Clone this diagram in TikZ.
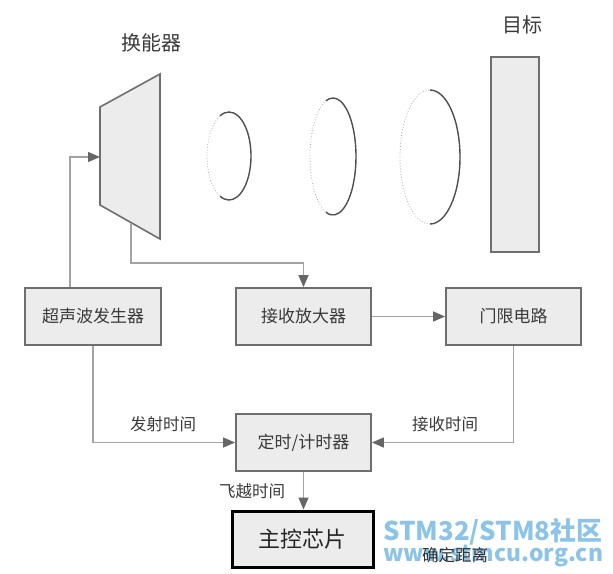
\documentclass[tikz,border=0pt]{standalone}
\usepackage{fontspec}
\setmainfont{Noto Sans CJK SC}
\usepackage{graphicx}
\usetikzlibrary{arrows.meta}
\definecolor{boxfill}{HTML}{ECECEC}
\definecolor{boxline}{HTML}{6E6E6E}
\definecolor{wire}{HTML}{A3A3A3}
\definecolor{tipc}{HTML}{666666}
\definecolor{txt}{HTML}{3A3A3A}
\definecolor{wm}{RGB}{140,196,232}
\definecolor{dotc}{HTML}{A8A8A8}
\definecolor{arcc}{HTML}{505050}
\tikzset{
  blk/.style={draw=boxline, fill=boxfill, line width=1.8pt, minimum width=135pt,
    minimum height=57pt, inner sep=0pt, text=txt, font=\fontsize{17}{17}\selectfont},
  chipbox/.style={draw=black, fill=boxfill, line width=3pt, minimum width=141pt,
    minimum height=56pt, inner sep=0pt, text=black!85, font=\fontsize{22}{22}\selectfont},
  shapefill/.style={draw=boxline, fill=boxfill, line width=1.6pt, line join=miter},
  conn/.style={draw=wire, line width=1.3pt, -{Triangle[length=12pt,width=10pt,color=tipc]}},
  plainconn/.style={draw=wire, line width=1.3pt},
  lbl/.style={text=txt, inner sep=0pt, font=\fontsize{16.5}{16.5}\selectfont},
  title/.style={text=txt, inner sep=0pt, font=\fontsize{20}{20}\selectfont},
  dotarc/.style={draw=dotc, line width=0.8pt, dotted},
  solidarc/.style={draw=arcc, line width=1.4pt},
  wmark/.style={text=wm, inner sep=0pt, font=\bfseries}
}
\begin{document}
\begin{tikzpicture}[x=1pt,y=-1pt]
\useasboundingbox (0,0) rectangle (613,573);

% titles
\node[title] (ttrans) at (151,43) {换能器};
\node[title] (ttarget) at (522,25) {目标};

% transducer
\filldraw[shapefill] (100,107) coordinate (tl) -- (160,74) coordinate (tr)
  -- (160,239) coordinate (br) -- (100,205) coordinate (bl) -- cycle;
\coordinate (tleft) at (100,157);
\coordinate (tbot) at (131,222.6);

% wave fronts
\coordinate (c1) at (229,156);
\coordinate (c2) at (333,156.5);
\coordinate (c3) at (430,157);
\draw[dotarc] (c1) ellipse[x radius=22, y radius=44];
\draw[solidarc] ([shift={(114:22 and 44)}]c1) arc[start angle=114, end angle=-114, x radius=22, y radius=44];
\draw[dotarc] (c2) ellipse[x radius=23, y radius=58.5];
\draw[solidarc] ([shift={(108:23 and 58.5)}]c2) arc[start angle=108, end angle=-108, x radius=23, y radius=58.5];
\draw[dotarc] (c3) ellipse[x radius=30, y radius=67];
\draw[solidarc] ([shift={(90:30 and 67)}]c3) arc[start angle=90, end angle=-90, x radius=30, y radius=67];

% target
\node[shapefill, rectangle, minimum width=48pt, minimum height=195pt, inner sep=0pt] (target) at (515,154.5) {};

% blocks
\node[blk, minimum width=136pt] (gen) at (93,316.5) {超声波发生器};
\node[blk] (amp) at (303.5,316.5) {接收放大器};
\node[blk] (th) at (513.5,316.5) {门限电路};
\node[blk] (timer) at (303.5,442.5) {定时/计时器};

% watermark (behind text)
\node[wmark, anchor=base west] (wm1) at (383,540) {\resizebox{219pt}{!}{STM32/STM8社区}};
\node[wmark, anchor=base west] (wm2) at (383,561) {\resizebox{220pt}{!}{www.stmcu.org.cn}};

\node[chipbox] (chip) at (302.5,539) {主控芯片};

% labels
\node[lbl] (l1) at (163,424) {发射时间};
\node[lbl] (l2) at (445,424) {接收时间};
\node[lbl] (l3) at (252,491) {飞越时间};
\node[lbl, text=black!80] (l4) at (455,555) {确定距离};

% connectors
\draw[conn] ([xshift=-23pt]gen.north) |- (tleft);
\draw[conn] (tbot) -- ++(0,40.4) -| (amp.north);
\draw[conn] (amp.east) -- (th.west);
\draw[conn] (gen.south) |- (timer.west);
\draw[conn] (th.south) |- (timer.east);
\draw[conn] (timer.south) -- (timer.south |- chip.north);
\end{tikzpicture}
\end{document}
